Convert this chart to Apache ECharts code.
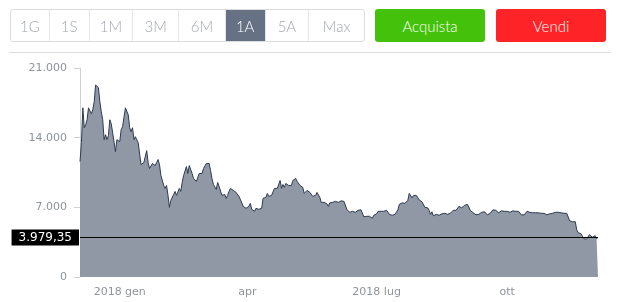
<!DOCTYPE html>
<html><head><meta charset="utf-8">
<script src="https://cdn.jsdelivr.net/npm/echarts@6/dist/echarts.min.js"></script>
<style>
html,body{margin:0;padding:0;background:#fff;width:625px;height:302px;overflow:hidden;}
#chart{position:absolute;left:0;top:0;width:625px;height:302px;}
.grp{position:absolute;left:10px;top:9px;height:33px;width:355px;border:1px solid #dcdde0;border-radius:3px;display:flex;overflow:hidden;box-sizing:border-box;z-index:2;background:#fff}
.grp div{height:100%;display:flex;align-items:center;justify-content:center;font-family:Lato,"Open Sans",sans-serif;font-weight:300;font-size:15px;color:#a3a8b0;border-right:1px solid #e4e5e8;box-sizing:border-box}
.grp div:last-child{border-right:none}
.grp div.on{background:#667284;color:#fff}
.btn{position:absolute;top:9px;height:33px;width:110px;border-radius:3px;display:flex;align-items:center;justify-content:center;font-family:Lato,"Open Sans",sans-serif;font-weight:300;font-size:15px;color:#fff;z-index:2}
.sep{position:absolute;left:9px;top:52px;width:602px;height:1px;background:#dcdcdc;z-index:2}
</style></head>
<body>
<div id="chart"></div>
<div class="grp">
<div style="width:39px">1G</div><div style="width:40px">1S</div><div style="width:44px">1M</div><div style="width:46px">3M</div><div style="width:47px">6M</div><div class="on" style="width:40px">1A</div><div style="width:44px">5A</div><div style="width:55px">Max</div>
</div>
<div class="btn" style="left:375px;background:#44c10a">Acquista</div>
<div class="btn" style="left:496px;background:#fe2326">Vendi</div>
<div class="sep"></div>
<script>
// Daily prices, each month starting at its first day (Dec 2017 starts on the 4th)
const dec2017 = [11600,13500,17000,15000,15300,15800,17000,16800,16400,16800,17600,19300,19100,19000,17600,16600,15800,13800,14300,13800,14200,15800,15400,14500,14600,12600,13800,13800];
const jan2018 = [13600,14800,15100,15300,17000,17100,16300,15000,14600,15000,13800,14100,14300,13500,13600,11300,11200,11500,11700,12700,11500,10900,11000,11400,11200,11200,11500,11800,11300,10200,10200];
const feb2018 = [9200,8900,9200,8200,7000,7700,7600,8300,8600,8200,8100,8900,8600,9500,10200,10200,11100,10400,11200,11300,10400,9900,10100,9600,9700,10400,10600,10400];
const mar2018 = [10900,11000,11400,11500,11400,10700,9900,9300,9200,8800,9500,9100,9100,8200,8300,8300,7900,8200,8600,8900,8900,8700,8900,8500,8400,8100,7800,7900,7100,6900,6900];
const apr2018 = [6800,7100,7400,6800,6800,6600,6900,7000,6800,6900,6900,7900,7900,8000,8400,8100,7900,8200,8300,8900,8900,8900,9000,9700,8900,9300,9000,9400,9300,9200];
const may2018 = [9100,9200,9700,9700,9900,9600,9400,9200,9300,9000,8400,8500,8700,8700,8500,8300,8100,8200,8200,8500,8400,8000,7500,7600,7500,7350,7350,7100,7450,7400,7500];
const jun2018 = [7500,7600,7700,7500,7600,7650,7700,7600,7500,6800,6900,6500,6300,6600,6400,6500,6500,6700,6700,6750,6700,6050,6150,6100,6250,6100,6100,5900,6200,6400];
const jul2018 = [6350,6600,6500,6600,6550,6600,6750,6700,6650,6300,6400,6200,6250,6300,6350,6750,7300,7350,7450,7350,7400,7400,7700,8400,8200,7950,8200,8200,8200,8200,7750];
const aug2018 = [7600,7550,7400,7000,7050,6950,6700,6300,6550,6150,6250,6300,6250,6200,6300,6350,6550,6400,6500,6300,6500,6400,6550,6700,6750,6700,6900,7100,7050,6950,7050];
const sep2018 = [7200,7300,7300,7400,6700,6550,6450,6250,6250,6300,6300,6350,6500,6500,6550,6500,6250,6350,6400,6500,6750,6700,6700,6600,6450,6500,6650,6650,6600,6650];
const oct2018 = [6600,6550,6500,6600,6650,6600,6600,6650,6600,6550,6250,6250,6250,6300,6600,6500,6500,6450,6450,6450,6450,6450,6450,6450,6400,6400,6400,6400,6250,6300,6350];
const nov2018 = [6400,6400,6400,6500,6450,6500,6550,6450,6400,6400,6400,6400,6300,5650,5600,5550,5500,5550,4750,4450,4600,4350,4300,3850,4000,3800,3850,4250,4250,4000];
const dec2018 = [4200,4150,3850,3979.35];
const months = [[2017,11,4,dec2017],[2018,0,1,jan2018],[2018,1,1,feb2018],[2018,2,1,mar2018],[2018,3,1,apr2018],[2018,4,1,may2018],[2018,5,1,jun2018],[2018,6,1,jul2018],[2018,7,1,aug2018],[2018,8,1,sep2018],[2018,9,1,oct2018],[2018,10,1,nov2018],[2018,11,1,dec2018]];
const lastPrice = 3979.35;
const xRange = ['2017-12-04','2018-12-04'];
const xTickDates = ['2018-01-01','2018-04-01','2018-07-01','2018-10-01'];
const xTickLabels = ['2018 gen','apr','2018 lug','ott'];
const yTicks = [0,7000,14000,21000];

function ts(s){const p=s.split('-').map(Number);return new Date(p[0],p[1]-1,p[2]).getTime();}
function fmtIt(v,dec){
  const parts=v.toFixed(dec).split('.');
  parts[0]=parts[0].replace(/\B(?=(\d{3})+(?!\d))/g,'.');
  return parts.length>1?parts[0]+','+parts[1]:parts[0];
}
const data=[];
months.forEach(([y,m,d0,arr])=>arr.forEach((v,i)=>data.push([new Date(y,m,d0+i).getTime(),v])));
const tickTs=xTickDates.map(ts);

const chart=echarts.init(document.getElementById('chart'),null,{renderer:'canvas'});
chart.setOption({
  animation:false,
  grid:{left:80,right:27,top:68,bottom:25,containLabel:false},
  xAxis:{
    type:'value',min:ts(xRange[0]),max:ts(xRange[1]),
    axisLine:{show:false},axisTick:{show:false},splitLine:{show:false},
    axisLabel:{
      customValues:tickTs,margin:10,color:'#8d949c',fontSize:11,fontFamily:'DejaVu Sans',
      formatter:function(v){const i=tickTs.indexOf(v);return i>=0?xTickLabels[i]:'';}
    }
  },
  yAxis:{
    type:'value',min:yTicks[0],max:yTicks[yTicks.length-1],interval:7000,
    axisLine:{show:true,lineStyle:{color:'#cfd2d6'}},
    axisTick:{show:true,length:6,lineStyle:{color:'#cfd2d6'}},
    splitLine:{show:false},
    axisLabel:{margin:13,color:'#8d949c',fontSize:11,fontFamily:'DejaVu Sans',formatter:v=>fmtIt(v,0)}
  },
  series:[{
    type:'line',data:data,showSymbol:false,symbol:'none',
    lineStyle:{color:'#2c3a50',width:1},
    areaStyle:{color:'#9198a5',opacity:1},
    markLine:{
      silent:true,symbol:['none','none'],animation:false,
      lineStyle:{color:'#000',width:1,type:'solid'},
      emphasis:{disabled:true},
      label:{position:'start',distance:1,formatter:fmtIt(lastPrice,2),color:'#fff',backgroundColor:'#000',padding:[2,7,2,7],fontSize:12,lineHeight:12,fontFamily:'DejaVu Sans'},
      data:[{yAxis:lastPrice}]
    }
  }]
});
</script>
</body></html>
